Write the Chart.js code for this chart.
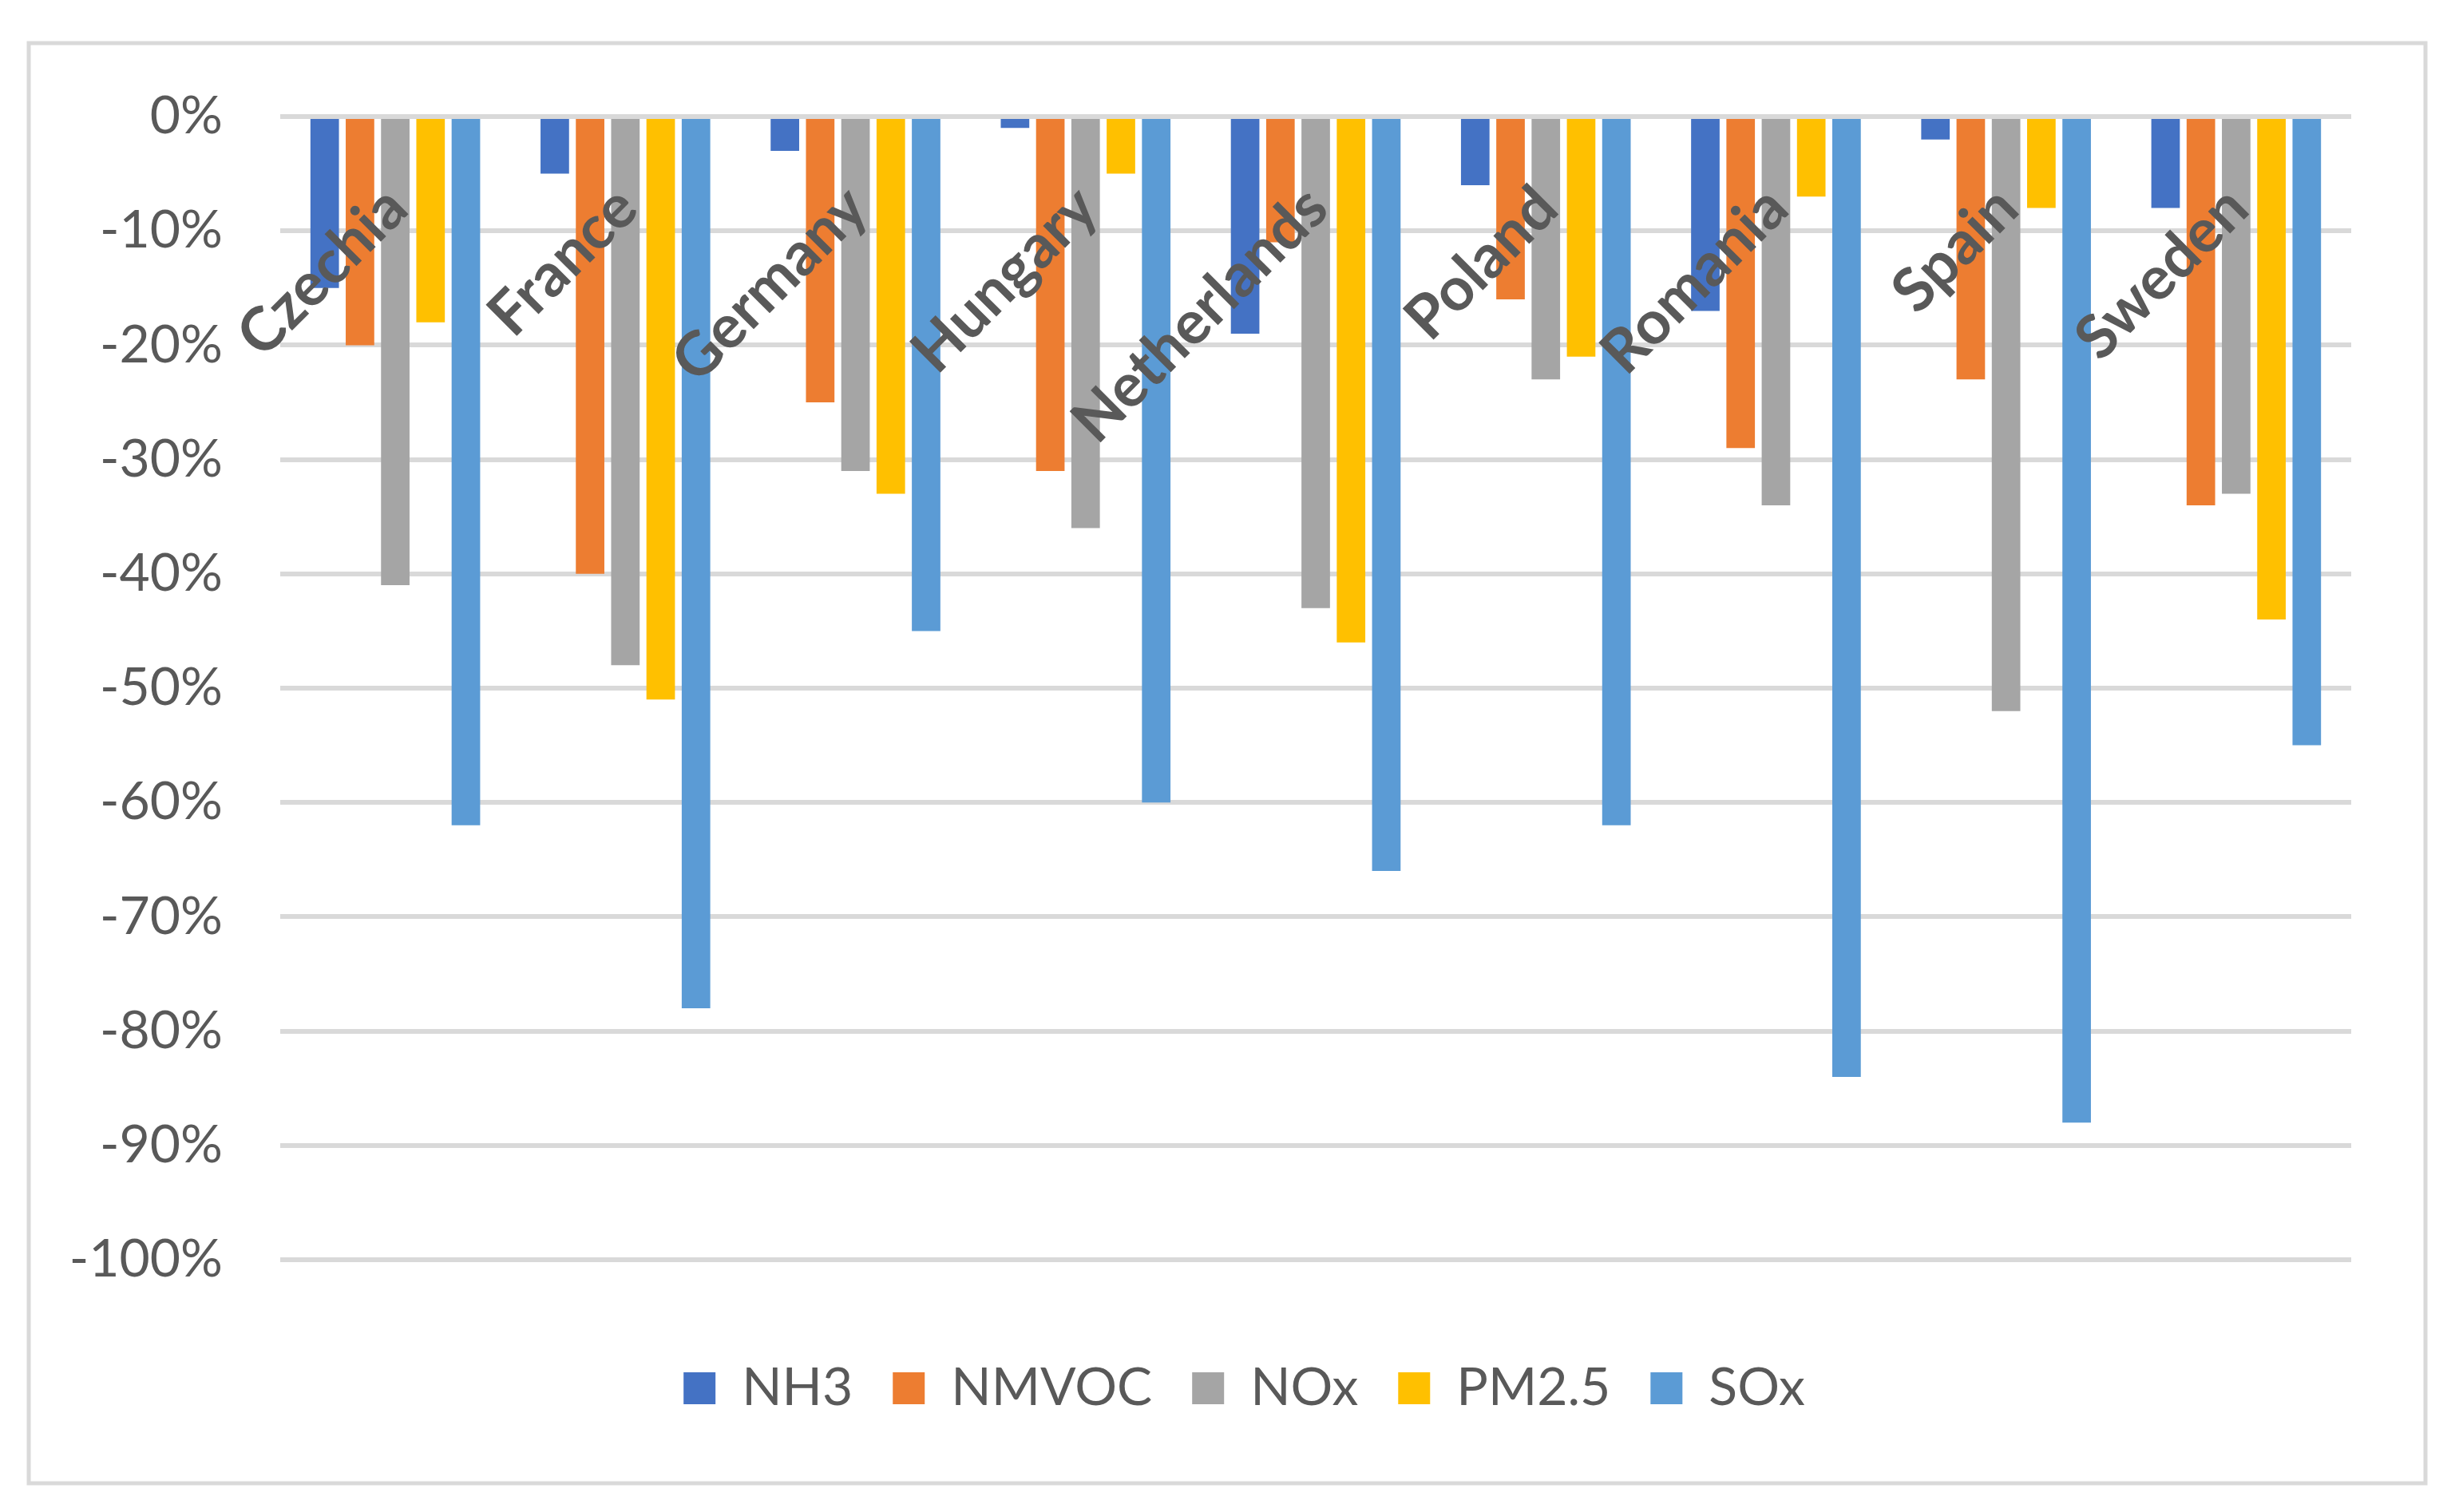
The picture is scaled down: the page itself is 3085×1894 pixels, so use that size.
<!DOCTYPE html>
<html>
<head>
<meta charset="utf-8">
<script src="https://cdn.jsdelivr.net/npm/chart.js@4.4.1/dist/chart.umd.min.js"></script>
<style>
  html, body { margin: 0; padding: 0; background: #fff; }
  #chart { position: absolute; left: 0; top: 0; }
</style>
</head>
<body>
<canvas id="chart" width="3085" height="1894"></canvas>
<script>
// Länder und Werte (% Veränderung)
const categories = ['Czechia', 'France', 'Germany', 'Hungary', 'Netherlands', 'Poland', 'Romania', 'Spain', 'Sweden'];
const nh3   = [-15, -5, -3, -1, -19, -6, -17, -2, -8];
const nmvoc = [-20, -40, -25, -31, -11, -16, -29, -23, -34];
const nox   = [-41, -48, -31, -36, -43, -23, -34, -52, -33];
const pm25  = [-18, -51, -33, -5, -46, -21, -7, -8, -44];
const sox   = [-62, -78, -45, -60, -66, -62, -84, -88, -55];
const yTicks = [0, -10, -20, -30, -40, -50, -60, -70, -80, -90, -100];

const textColor = '#595959';
const fontFam = 'Lato, "Open Sans", sans-serif';

// Rahmen um das Diagramm
const frame = {
  id: 'frame',
  beforeDraw(chart) {
    const c = chart.ctx;
    c.save();
    c.fillStyle = '#fff';
    c.fillRect(0, 0, chart.width, chart.height);
    c.strokeStyle = '#d9d9d9';
    c.lineWidth = 5;
    c.strokeRect(36, 54, 3002, 1804);
    c.restore();
  }
};

// Legende etwas nach rechts (Mitte des Rahmens)
const legendShift = {
  id: 'legendShift',
  afterLayout(chart) {
    if (chart.legend) {
      chart.legend.left += 56;
      chart.legend.right += 56;
    }
  }
};

// Kategorienamen schräg unter der 0-Linie
const catLabels = {
  id: 'catLabels',
  afterDatasetsDraw(chart) {
    const c = chart.ctx;
    const xs = chart.scales.x, ys = chart.scales.y;
    const y0 = ys.getPixelForValue(0);
    c.save();
    c.font = 'bold 76px ' + fontFam;
    c.fillStyle = textColor;
    c.textAlign = 'right';
    c.textBaseline = 'middle';
    categories.forEach((name, i) => {
      c.save();
      c.translate(xs.getPixelForValue(i) + 2, y0 + 102);
      c.rotate(-Math.PI / 4);
      c.fillText(name, 0, 0);
      c.restore();
    });
    c.restore();
  }
};

function ds(label, data, color) {
  return {
    label: label,
    data: data,
    backgroundColor: color,
    borderWidth: 0,
    categoryPercentage: 0.767,
    barPercentage: 0.808
  };
}

const ctx = document.getElementById('chart').getContext('2d');
new Chart(ctx, {
  type: 'bar',
  data: {
    labels: categories,
    datasets: [
      ds('NH3', nh3, '#4472C4'),
      ds('NMVOC', nmvoc, '#ED7D31'),
      ds('NOx', nox, '#A5A5A5'),
      ds('PM2.5', pm25, '#FFC000'),
      ds('SOx', sox, '#5B9BD5')
    ]
  },
  options: {
    responsive: false,
    devicePixelRatio: 1,
    animation: false,
    layout: { padding: { left: 60, top: 146, right: 140, bottom: 112 } },
    plugins: {
      legend: {
        position: 'bottom',
        labels: {
          boxWidth: 40,
          boxHeight: 40,
          padding: 50,
          color: textColor,
          font: { size: 66, family: fontFam }
        }
      },
      tooltip: { enabled: false }
    },
    scales: {
      x: {
        grid: { display: false },
        border: { display: false },
        ticks: { display: false },
        afterFit(scale) { scale.height = 78; }
      },
      y: {
        min: -100,
        max: 0,
        afterBuildTicks(scale) { scale.ticks = yTicks.map(v => ({ value: v })); },
        afterFit(scale) { scale.width = 291; },
        grid: { color: '#d9d9d9', lineWidth: 6, drawTicks: false },
        border: { display: false },
        ticks: {
          padding: 72,
          color: textColor,
          font: { size: 66, family: fontFam },
          callback: v => v + '%'
        }
      }
    }
  },
  plugins: [frame, legendShift, catLabels]
});
</script>
</body>
</html>
